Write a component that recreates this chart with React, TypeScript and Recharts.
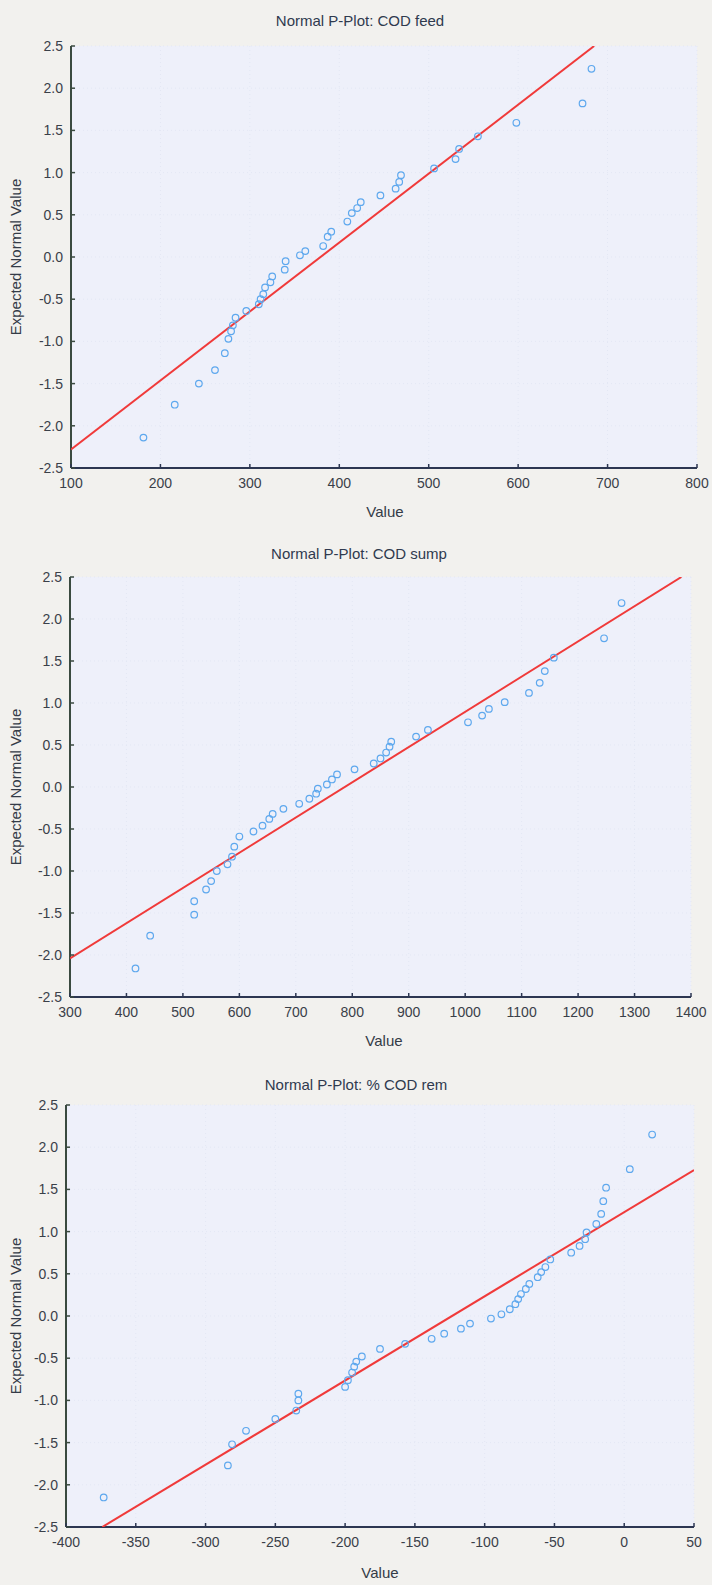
import React from 'react';
import { ScatterChart, Scatter, XAxis, YAxis, CartesianGrid } from 'recharts';

// COD feed
const feedValue = [181, 216, 243, 261, 272, 276, 279, 281, 284, 296, 310, 312, 315, 317, 323, 325, 339, 340, 356, 362, 382, 387, 391, 409, 414, 420, 424, 446, 463, 467, 469, 506, 530, 534, 555, 598, 672, 682];
const feedExpected = [-2.14, -1.75, -1.5, -1.34, -1.14, -0.97, -0.88, -0.81, -0.72, -0.64, -0.56, -0.5, -0.44, -0.36, -0.3, -0.23, -0.15, -0.05, 0.02, 0.07, 0.13, 0.24, 0.3, 0.42, 0.52, 0.58, 0.65, 0.73, 0.81, 0.89, 0.97, 1.05, 1.16, 1.28, 1.43, 1.59, 1.82, 2.23];
const feedFitValue = [100, 685];
const feedFitExpected = [-2.28, 2.5];

// COD sump
const sumpValue = [416, 442, 520, 520, 541, 550, 560, 579, 587, 591, 600, 625, 641, 653, 659, 678, 706, 724, 736, 739, 755, 764, 773, 804, 838, 850, 860, 866, 869, 913, 934, 1005, 1030, 1042, 1070, 1113, 1132, 1141, 1157, 1246, 1277];
const sumpExpected = [-2.16, -1.77, -1.52, -1.36, -1.22, -1.12, -1.0, -0.92, -0.83, -0.71, -0.59, -0.53, -0.46, -0.38, -0.32, -0.26, -0.2, -0.14, -0.08, -0.02, 0.03, 0.09, 0.15, 0.21, 0.28, 0.34, 0.41, 0.48, 0.54, 0.6, 0.68, 0.77, 0.85, 0.93, 1.01, 1.12, 1.24, 1.38, 1.54, 1.77, 2.19];
const sumpFitValue = [300, 1383];
const sumpFitExpected = [-2.04, 2.5];

// % COD rem
const remValue = [-373, -284, -281, -271, -250, -235, -233.5, -233.5, -200, -198, -195, -193.5, -192, -188, -175, -157, -138, -129, -117, -110.5, -95.5, -88, -82, -78, -76, -74, -70.5, -68, -62, -59.5, -56.5, -53, -38, -32, -28, -27, -20, -16.5, -15, -13, 4, 20];
const remExpected = [-2.15, -1.77, -1.52, -1.36, -1.22, -1.12, -1.0, -0.92, -0.84, -0.76, -0.67, -0.6, -0.54, -0.48, -0.39, -0.33, -0.27, -0.21, -0.15, -0.09, -0.03, 0.02, 0.08, 0.14, 0.2, 0.26, 0.32, 0.38, 0.46, 0.52, 0.58, 0.67, 0.75, 0.83, 0.91, 0.99, 1.09, 1.21, 1.36, 1.52, 1.74, 2.15];
const remFitValue = [-374, 50];
const remFitExpected = [-2.5, 1.73];

const expectedTicks = [-2.5, -2, -1.5, -1, -0.5, 0, 0.5, 1, 1.5, 2, 2.5];
const feedTicks = [100, 200, 300, 400, 500, 600, 700, 800];
const sumpTicks = [300, 400, 500, 600, 700, 800, 900, 1000, 1100, 1200, 1300, 1400];
const remTicks = [-400, -350, -300, -250, -200, -150, -100, -50, 0, 50];

const zip = (xs: number[], ys: number[]) => xs.map((x, i) => ({ x, y: ys[i] }));

const font = '"Liberation Sans", Arial, sans-serif';
const tickColor = '#3a4049';
const frameA = '#3a4a40';
const frameB = '#2c3652';

const BottomTick = (props: any) => {
  const { x, y, payload } = props;
  return (
    <g>
      <line x1={x} y1={y} x2={x} y2={y - 4} stroke={frameB} strokeWidth={1.5} />
      <text x={x} y={y + 20} textAnchor="middle" fontSize={14} fontFamily={font} fill={tickColor}>
        {payload.value}
      </text>
    </g>
  );
};

const LeftTick = (props: any) => {
  const { x, y, payload } = props;
  return (
    <g>
      <line x1={x} y1={y} x2={x + 4} y2={y} stroke={frameA} strokeWidth={1.5} />
      <text x={x - 8} y={y + 5} textAnchor="end" fontSize={14} fontFamily={font} fill={tickColor}>
        {Number(payload.value).toFixed(1)}
      </text>
    </g>
  );
};

const Ring = (props: any) => (
  <circle cx={props.cx} cy={props.cy} r={3.3} fill="none" stroke="#5ea8ee" strokeWidth={1.2} />
);

const NoDot = () => <g />;

interface PanelProps {
  title: string;
  points: { x: number; y: number }[];
  fit: { x: number; y: number }[];
  xTicks: number[];
  top: number;
  height: number;
  plotTop: number;
  plotBottom: number;
  plotLeft: number;
  plotRight: number;
  titleX: number;
  titleY: number;
  valueX: number;
  valueY: number;
}

const Panel = (p: PanelProps) => {
  const xDomain = [p.xTicks[0], p.xTicks[p.xTicks.length - 1]];
  return (
    <>
      <div style={{ position: 'absolute', left: p.titleX - 200, top: p.titleY - 10, width: 400, textAlign: 'center', fontSize: 15, fontFamily: font, color: '#2f3a4e', lineHeight: '20px' }}>
        {p.title}
      </div>
      <div style={{ position: 'absolute', left: 0, top: p.top }}>
        <ScatterChart
          width={712}
          height={p.height}
          margin={{ top: p.plotTop - p.top, right: 712 - p.plotRight, left: p.plotLeft - 60, bottom: p.top + p.height - p.plotBottom - 30 }}
        >
          <CartesianGrid fill="#eef0fa" stroke="#e3e7f4" strokeDasharray="1 3" />
          <XAxis type="number" dataKey="x" domain={xDomain} ticks={p.xTicks} interval={0} allowDataOverflow height={30}
            tickSize={0} tickMargin={0} tickLine={false} tick={<BottomTick />} axisLine={{ stroke: frameB, strokeWidth: 2 }} />
          <XAxis xAxisId="t" orientation="top" type="number" domain={xDomain} ticks={p.xTicks} interval={0} allowDataOverflow height={0}
            mirror tick={false} tickSize={4} tickLine={{ stroke: frameA, strokeWidth: 1.5 }} axisLine={{ stroke: frameA, strokeWidth: 2 }} />
          <YAxis type="number" dataKey="y" domain={[-2.5, 2.5]} ticks={expectedTicks} interval={0} allowDataOverflow width={60}
            tickSize={0} tickMargin={0} tickLine={false} tick={<LeftTick />} axisLine={{ stroke: frameA, strokeWidth: 2 }} />
          <YAxis yAxisId="r" orientation="right" type="number" domain={[-2.5, 2.5]} ticks={expectedTicks} interval={0} allowDataOverflow width={0}
            mirror tick={false} tickSize={4} tickLine={{ stroke: frameB, strokeWidth: 1.5 }} axisLine={{ stroke: frameB, strokeWidth: 2 }} />
          <Scatter data={p.fit} line={{ stroke: '#f03a3a', strokeWidth: 2 }} shape={NoDot} isAnimationActive={false} />
          <Scatter data={p.points} shape={Ring} isAnimationActive={false} />
        </ScatterChart>
      </div>
      <div style={{ position: 'absolute', left: 0, top: (p.plotTop + p.plotBottom) / 2 - 10, width: 30, height: 20 }}>
        <div style={{ position: 'absolute', left: 16 - 120, top: 0, width: 240, textAlign: 'center', transform: 'rotate(-90deg)', fontSize: 15, fontFamily: font, color: '#343b47', lineHeight: '20px' }}>
          Expected Normal Value
        </div>
      </div>
      <div style={{ position: 'absolute', left: p.valueX - 50, top: p.valueY - 10, width: 100, textAlign: 'center', fontSize: 15, fontFamily: font, color: '#343b47', lineHeight: '20px' }}>
        Value
      </div>
    </>
  );
};

export default function App() {
  return (
    <div style={{ position: 'absolute', left: 0, top: 0, width: 712, height: 1585, background: '#f2f1ee', overflow: 'hidden' }}>
      <Panel title="Normal P-Plot: COD feed" points={zip(feedValue, feedExpected)} fit={zip(feedFitValue, feedFitExpected)} xTicks={feedTicks}
        top={0} height={530} plotTop={46} plotBottom={468} plotLeft={71} plotRight={697} titleX={360} titleY={21} valueX={385} valueY={512} />
      <Panel title="Normal P-Plot: COD sump" points={zip(sumpValue, sumpExpected)} fit={zip(sumpFitValue, sumpFitExpected)} xTicks={sumpTicks}
        top={530} height={530} plotTop={577} plotBottom={997} plotLeft={70} plotRight={691} titleX={359} titleY={554} valueX={384} valueY={1041} />
      <Panel title="Normal P-Plot: % COD rem" points={zip(remValue, remExpected)} fit={zip(remFitValue, remFitExpected)} xTicks={remTicks}
        top={1060} height={525} plotTop={1105} plotBottom={1527} plotLeft={66} plotRight={694} titleX={356} titleY={1085} valueX={380} valueY={1573} />
    </div>
  );
}
